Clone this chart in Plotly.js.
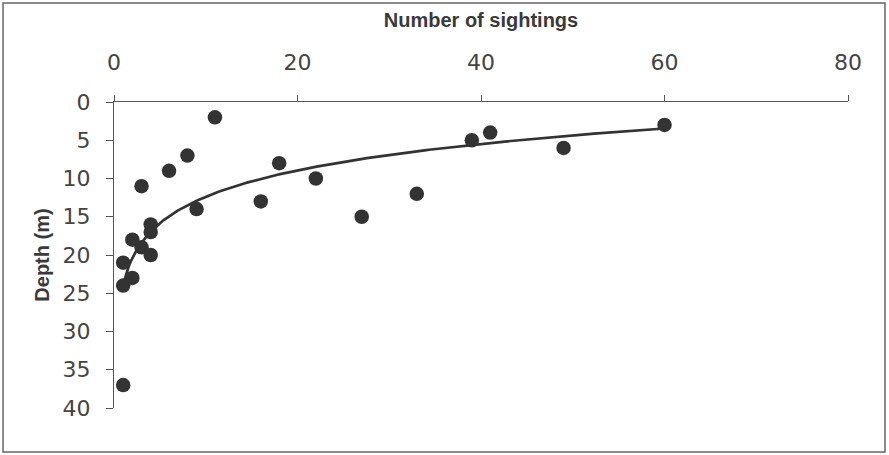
<!DOCTYPE html>
<html>
<head>
<meta charset="utf-8">
<script src="https://cdn.plot.ly/plotly-3.0.1.min.js"></script>
<style>html,body{margin:0;padding:0;background:#fff;}#chart{width:889px;height:455px;}</style>
</head>
<body>
<div id="chart"></div>
<script>
// Number of sightings (x) at each depth (y, m)
const sightings = [11, 60, 41, 39, 49, 8, 18, 6, 22, 3, 33, 16, 9, 27, 4, 4, 2, 3, 4, 1, 2, 1, 1];
const depths    = [2, 3, 4, 5, 6, 7, 8, 9, 10, 11, 12, 13, 14, 15, 16, 17, 18, 19, 20, 21, 23, 24, 37];
const xTicks = [0, 20, 40, 60, 80];
const yTicks = [0, 5, 10, 15, 20, 25, 30, 35, 40];

// Logarithmic trendline (least squares fit of depth on ln(sightings)), as in the original
const lnX = sightings.map(v => Math.log(v));
const n = lnX.length;
const mL = lnX.reduce((a, b) => a + b, 0) / n;
const mY = depths.reduce((a, b) => a + b, 0) / n;
let sxy = 0, sxx = 0;
for (let i = 0; i < n; i++) { sxy += (lnX[i] - mL) * (depths[i] - mY); sxx += (lnX[i] - mL) ** 2; }
const slope = sxy / sxx, intercept = mY - slope * mL;
const xMin = Math.min(...sightings), xMax = Math.max(...sightings);
const trendX = [], trendY = [];
for (let k = 0; k <= 200; k++) {
  const x = xMin + (xMax - xMin) * k / 200;
  trendX.push(x); trendY.push(intercept + slope * Math.log(x));
}

const tickFont = {family: 'DejaVu Sans, Verdana, sans-serif', size: 22, color: '#444'};
const titleFont = {family: 'Liberation Sans, Arial, sans-serif', size: 20, color: '#3a3a3a'};

const data = [
  {x: trendX, y: trendY, mode: 'lines', line: {color: '#333', width: 2.7}, hoverinfo: 'skip'},
  {x: sightings, y: depths, mode: 'markers', marker: {color: '#333', size: 14.5}}
];

const layout = {
  width: 889, height: 455,
  margin: {l: 114, r: 41, t: 102, b: 47},
  paper_bgcolor: '#fff', plot_bgcolor: '#fff',
  showlegend: false,
  xaxis: {
    side: 'top', range: [0, 80], tickvals: xTicks, ticktext: xTicks.map(String),
    ticks: 'outside', ticklen: 6, tickcolor: '#555', showline: true, linecolor: '#555', linewidth: 1,
    showgrid: false, zeroline: false, tickfont: tickFont, ticklabelstandoff: 16,
    title: {text: '<b>Number of sightings</b>', font: titleFont, standoff: 17}
  },
  yaxis: {
    range: [40, 0], tickvals: yTicks, ticktext: yTicks.map(String),
    ticks: 'outside', ticklen: 7, tickcolor: '#555', showline: true, linecolor: '#555', linewidth: 1,
    showgrid: false, zeroline: false, tickfont: tickFont, ticklabelstandoff: 11,
    title: {text: '<b>Depth (m)</b>', font: titleFont, standoff: 7}
  },
  shapes: [{
    type: 'rect', xref: 'paper', yref: 'paper',
    x0: -0.1512, x1: 1.0504, y0: -0.1438, y1: 1.3235,
    line: {color: '#666', width: 1.5}, fillcolor: 'rgba(0,0,0,0)', layer: 'below'
  }]
};

Plotly.newPlot('chart', data, layout, {displayModeBar: false, staticPlot: true});
</script>
</body>
</html>
